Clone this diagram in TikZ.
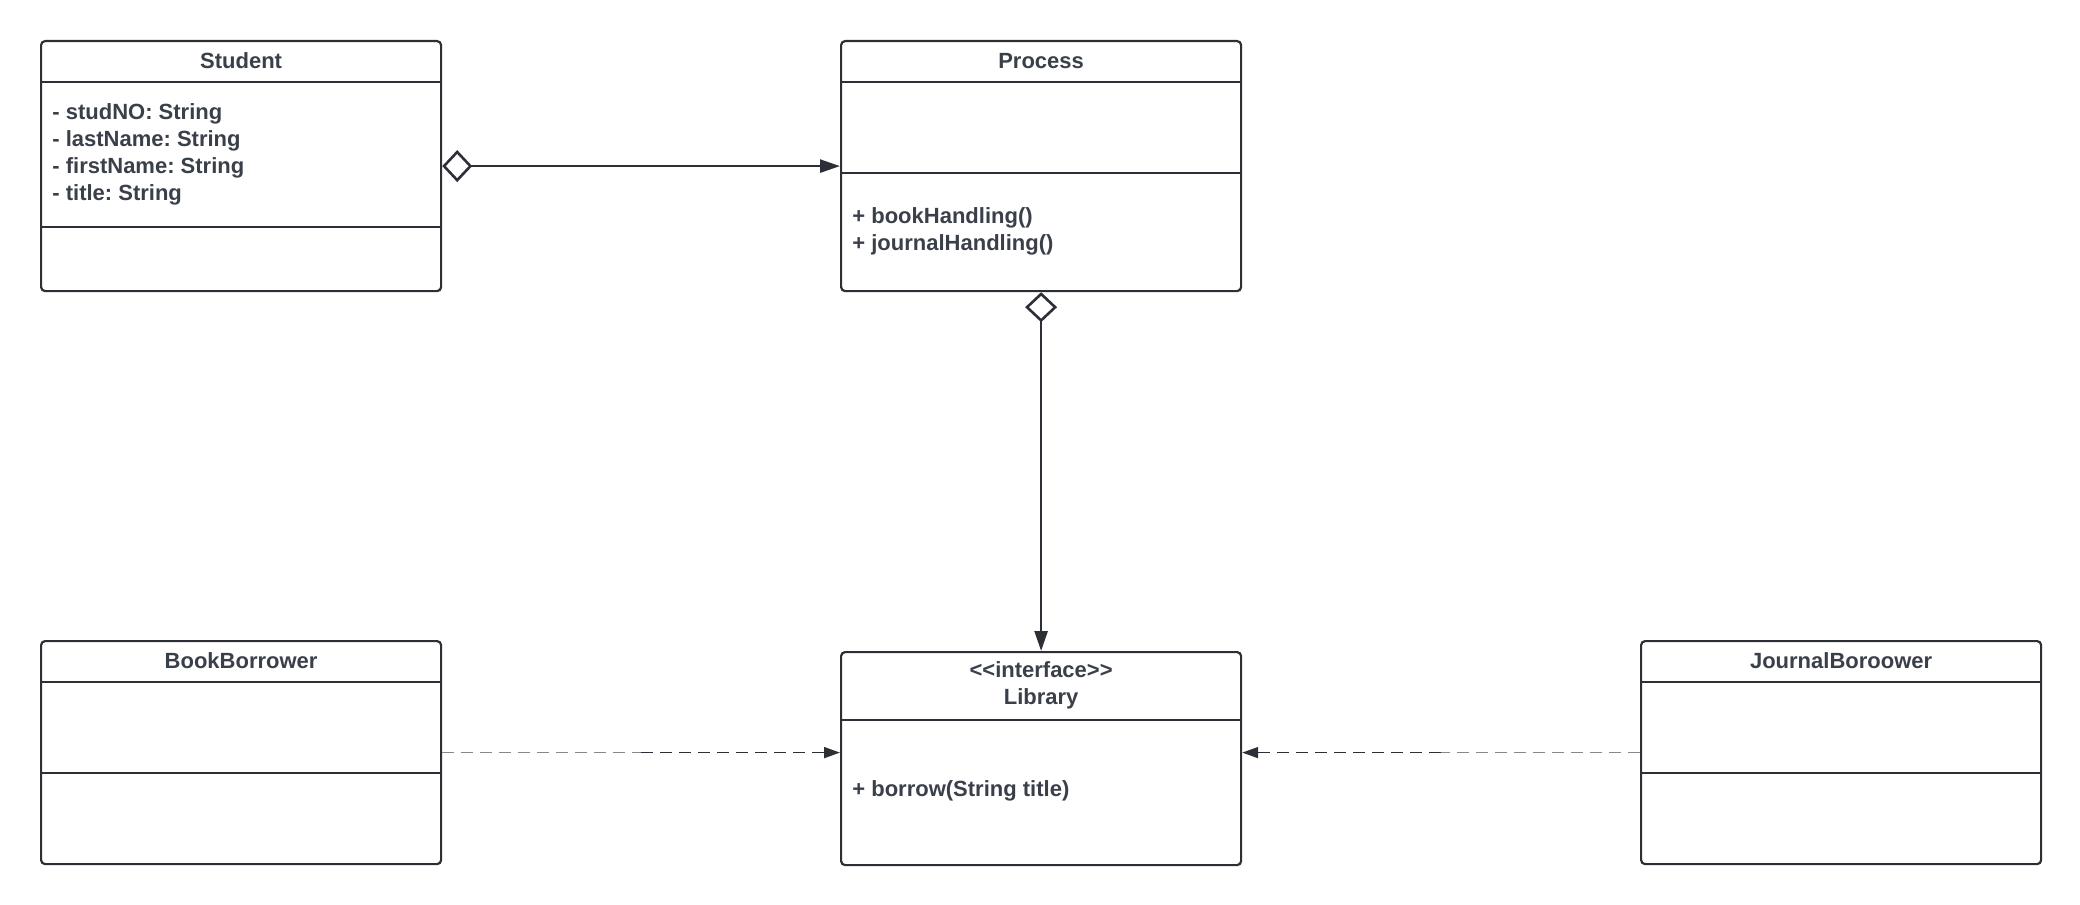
\documentclass[tikz,border=0pt]{standalone}
\usepackage{fontspec}
\setmainfont{Liberation Sans}
\usepackage{tikz}
\usetikzlibrary{arrows.meta, positioning}
\definecolor{umlline}{HTML}{2C2F36}
\definecolor{umltext}{HTML}{3A404A}
\definecolor{umlgray}{HTML}{85888F}
\frenchspacing

\tikzset{
  aggr/.style={draw=umlline, line width=1.3pt, {Diamond[open, length=15pt, width=16pt]}-{Triangle[length=10pt, width=6.5pt]}},
  realize/.style={line width=0.85pt, dash pattern=on 6pt off 3.5pt},
}

\begin{document}
\begin{tikzpicture}[x=0.5pt, y=-0.5pt, line join=round]
\useasboundingbox (0,0) rectangle (2080,904);

\begin{scope}[every node/.style={draw=umlline, line width=1.1pt, rounded corners=2pt, minimum width=200pt, anchor=north west, inner sep=0pt}]
  \node[minimum height=125pt] (student) at (40,40) {};
  \node[minimum height=125pt] (process) at (840,40) {};
  \node[minimum height=111.5pt] (book) at (40,640) {};
  \node[minimum height=106.5pt] (lib) at (840,651) {};
  \node[minimum height=111.5pt] (journal) at (1640,640) {};
\end{scope}

% compartments
\foreach \b/\y in {student/82, student/227, process/82, process/173, book/682, book/773, lib/720, journal/682, journal/773}
  \draw[umlline, line width=1pt] (\b.west |- 0,\y) -- (\b.east |- 0,\y);

\begin{scope}[every node/.style={text=umltext, font=\bfseries\fontsize{11pt}{13.5pt}\selectfont, inner sep=0pt}]
  \node at (student.north |- 0,61) {Student};
  \node[anchor=west, align=left] at (52,154.5) {- studNO: String\\- lastName: String\\- firstName: String\\- title: String};
  \node at (process.north |- 0,61) {Process};
  \node[anchor=west, align=left] at (852,231.5) {+ bookHandling()\\+ journalHandling()};
  \node at (book.north |- 0,661) {BookBorrower};
  \node[align=center] at (lib.north |- 0,685.5) {<\kern0pt<interface>\kern0pt>\\Library};
  \node[anchor=west] at (852,791) {+ borrow(String title)};
  \node at (journal.north |- 0,661) {JournalBoroower};
\end{scope}

\draw[aggr] (student) -- (process);
\draw[aggr] (process) -- (lib);

\path (book.east) -- coordinate[midway] (bmid) (book.east -| lib.west);
\draw[realize, umlgray] (book.east) -- (bmid);
\draw[realize, umlline, -{Triangle[length=8pt, width=5.5pt]}] (bmid) -- (bmid -| lib.west);

\path (journal.west) -- coordinate[midway] (jmid) (journal.west -| lib.east);
\draw[realize, umlgray] (journal.west) -- (jmid);
\draw[realize, umlline, -{Triangle[length=8pt, width=5.5pt]}] (jmid) -- (jmid -| lib.east);

\end{tikzpicture}
\end{document}
